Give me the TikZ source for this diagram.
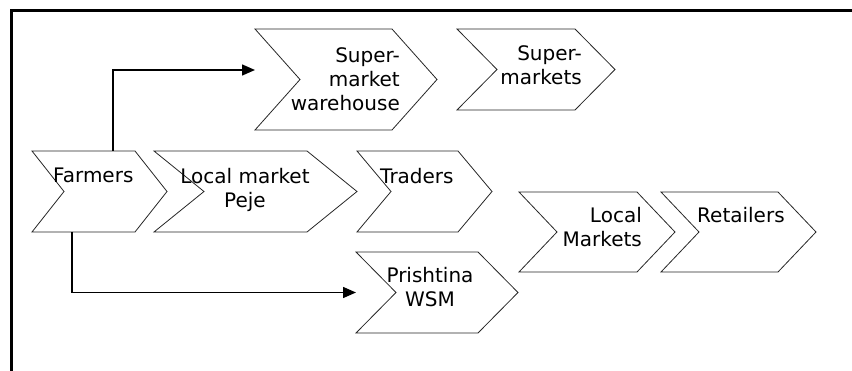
\documentclass[tikz,border=0pt]{standalone}
\usepackage{fontspec}
\setmainfont{DejaVu Sans}
\usetikzlibrary{arrows.meta}

% \chevron{name}{x left}{y top}{x shoulder}{y bottom}{depth}
\newcommand{\chevron}[6]{%
  \draw[chev] (#2,#3) -- (#4,#3) -- ({#4+#6},{(#3+#5)/2}) -- (#4,#5)
    -- (#2,#5) -- ({#2+#6},{(#3+#5)/2}) -- cycle;
  \coordinate (#1-w) at (#2,{(#3+#5)/2});
}

\tikzset{
  chev/.style={draw=black!85, line width=0.8pt},
  lbl/.style={inner sep=0pt, font=\fontsize{20}{24}\selectfont},
  flow/.style={draw=black, line width=1.5pt,
    -{Triangle[length=13pt,width=11pt]}},
  frame/.style={draw=black, line width=2.5pt}
}

\begin{document}
\begin{tikzpicture}[x=1pt,y=-1pt]
  \useasboundingbox (0,0) rectangle (852,371);

  % frame (top and left edges only)
  \draw[frame] (11.5,372) -- (11.5,10.5) -- (853,10.5);

  % chevrons
  \chevron{wh}{255}{29}{392}{130}{45}
  \chevron{sm}{457}{29}{575}{110}{40}
  \chevron{fa}{32}{151}{135}{232}{32}
  \chevron{lm}{154}{151}{307}{232}{50}
  \chevron{tr}{357}{151}{458}{232}{34}
  \chevron{pw}{356}{252}{478}{333}{40}
  \chevron{lk}{519}{192}{637}{272}{38}
  \chevron{re}{661}{192}{778}{272}{38}

  % labels
  \node[lbl, anchor=north east, align=right] (twh) at (400,47) {Super-\\market\\warehouse};
  \node[lbl, anchor=north east, align=right] (tsm) at (582,45) {Super-\\markets};
  \node[lbl, anchor=north west] (tfa) at (53,168) {Farmers};
  \node[lbl, anchor=north, align=center] (tlm) at (245,168) {Local market\\Peje};
  \node[lbl, anchor=north west] (ttr) at (380,168) {Traders};
  \node[lbl, anchor=north, align=center] (tpw) at (430,267) {Prishtina\\WSM};
  \node[lbl, anchor=north east, align=right] (tlk) at (642,207) {Local\\Markets};
  \node[lbl, anchor=north west] (tre) at (697,207) {Retailers};

  % connector ends
  \coordinate (fa-up) at (113,151);
  \coordinate (fa-down) at (72,232);
  \coordinate (wh-in) at (255,70);

  % connectors
  \draw[flow] (fa-up) |- (wh-in);
  \draw[flow] (fa-down) |- (pw-w);
\end{tikzpicture}
\end{document}
